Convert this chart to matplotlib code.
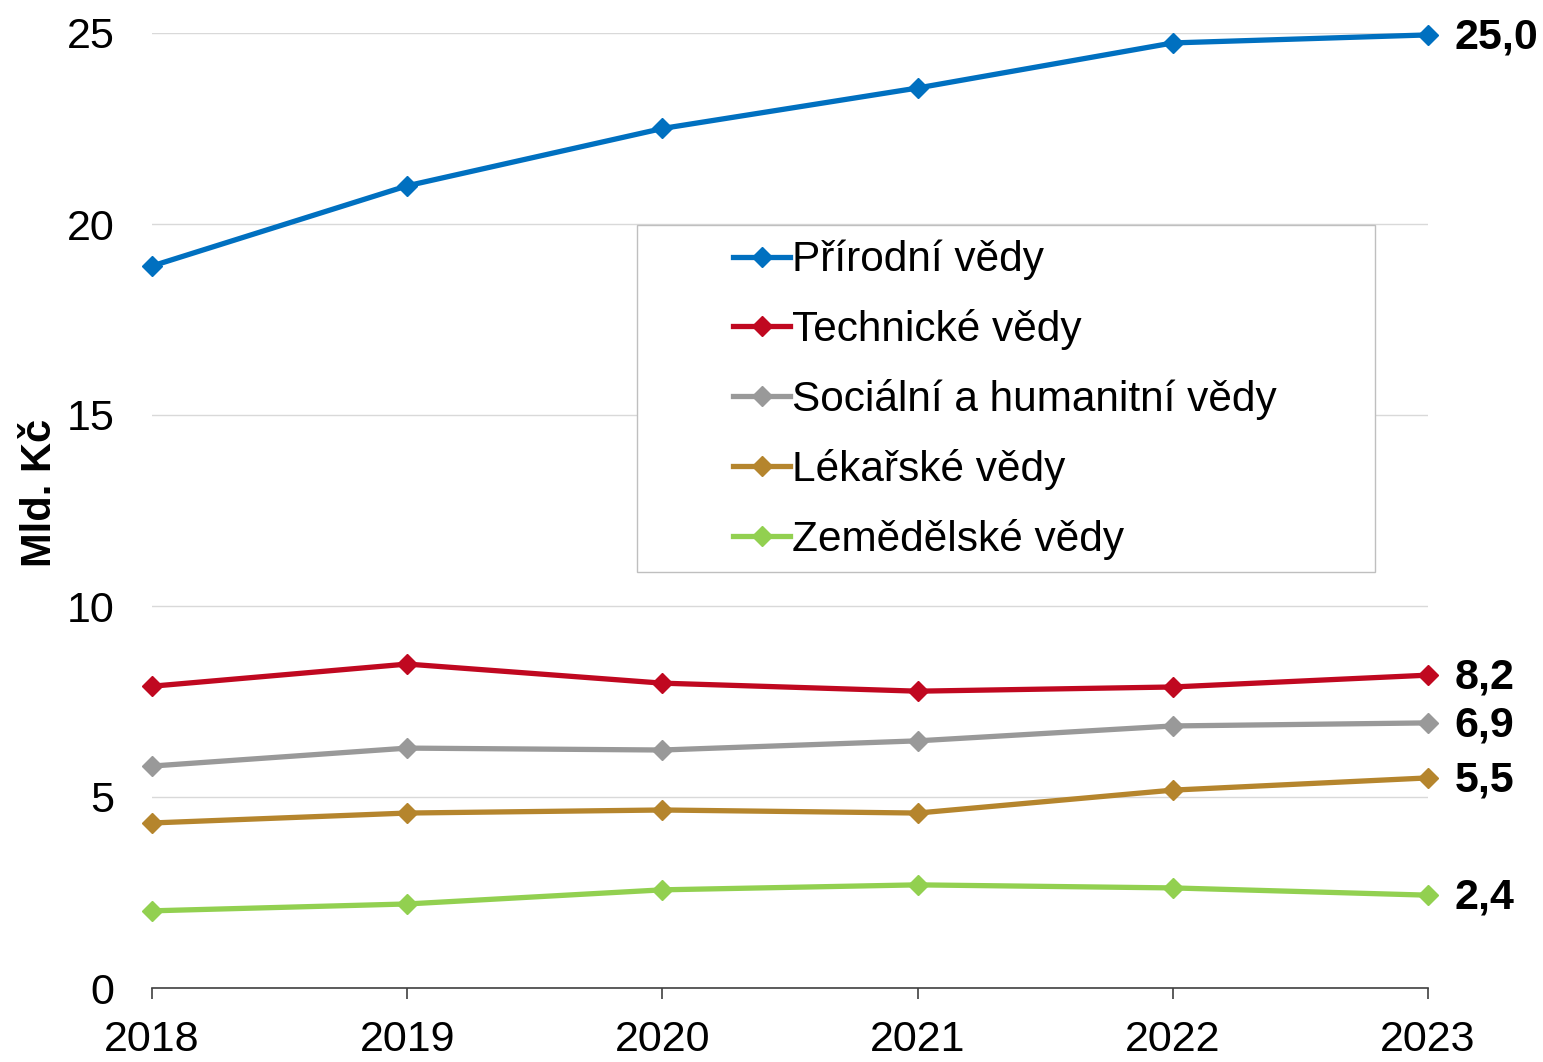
import matplotlib
matplotlib.use("Agg")
from matplotlib import pyplot as plt
from matplotlib.patches import Rectangle

plt.rcParams["font.family"] = ["Liberation Sans", "DejaVu Sans"]

years = [2018, 2019, 2020, 2021, 2022, 2023]

prirodni = [18.9, 21.0, 22.5, 23.56, 24.74, 24.95]
technicke = [7.9, 8.48, 7.98, 7.77, 7.88, 8.19]
socialni = [5.81, 6.28, 6.23, 6.47, 6.86, 6.94]
lekarske = [4.32, 4.58, 4.66, 4.58, 5.18, 5.5]
zemedelske = [2.02, 2.2, 2.57, 2.7, 2.62, 2.43]

names = ["Přírodní vědy", "Technické vědy", "Sociální a humanitní vědy",
         "Lékařské vědy", "Zemědělské vědy"]
colors = ["#0070C0", "#C00820", "#999999", "#B5852D", "#92D050"]
end_labels = ["25,0", "8,2", "6,9", "5,5", "2,4"]

fig = plt.figure(figsize=(15.43, 10.62), dpi=100)
ax = fig.add_axes([152/1543, 1 - 988/1062, (1428 - 152)/1543, (988 - 33)/1062])

series = [prirodni, technicke, socialni, lekarske, zemedelske]
for vals, name, col, lab in zip(series, names, colors, end_labels):
    ax.plot(years, vals, "-D", color=col, lw=3.8, ms=10.5, label=name, clip_on=False, zorder=3)
    ax.annotate(lab, (years[-1], vals[-1]), xytext=(19, -2), textcoords="offset points",
                ha="left", va="center", fontsize=31, fontweight="bold")

ax.set_xlim(2018, 2023)
ax.set_ylim(0, 25)
ax.set_xticks(years)
ax.set_yticks([0, 5, 10, 15, 20, 25])
ax.grid(axis="y", color="#d9d9d9", lw=1)
ax.set_axisbelow(True)
for s in ["left", "right", "top"]:
    ax.spines[s].set_visible(False)
ax.spines["bottom"].set_color("#404040")
ax.spines["bottom"].set_linewidth(1.2)
ax.tick_params(axis="y", length=0, pad=27, labelsize=31)
ax.tick_params(axis="x", direction="out", length=8, width=1.2, color="#404040", labelsize=31, pad=15)
ax.set_ylabel("Mld. Kč", fontsize=30, fontweight="bold")
ax.yaxis.set_label_coords(-0.072, 0.518)

# legend frame drawn separately, entries placed inside it
ax.add_patch(Rectangle((637/1543, 1 - 572/1062), (1375 - 637)/1543, (572 - 225)/1062,
                       transform=fig.transFigure, fill=True, facecolor="white",
                       edgecolor="#bfbfbf", lw=1, zorder=4, clip_on=False))
leg = ax.legend(loc="upper left", bbox_to_anchor=(733/1543, 1 - 240/1062),
                bbox_transform=fig.transFigure, fontsize=30.5, frameon=False,
                borderaxespad=0, borderpad=0, handlelength=1.35, handletextpad=0.05,
                labelspacing=0.68)
leg.set_zorder(5)

fig.savefig("out.png", dpi=100)
